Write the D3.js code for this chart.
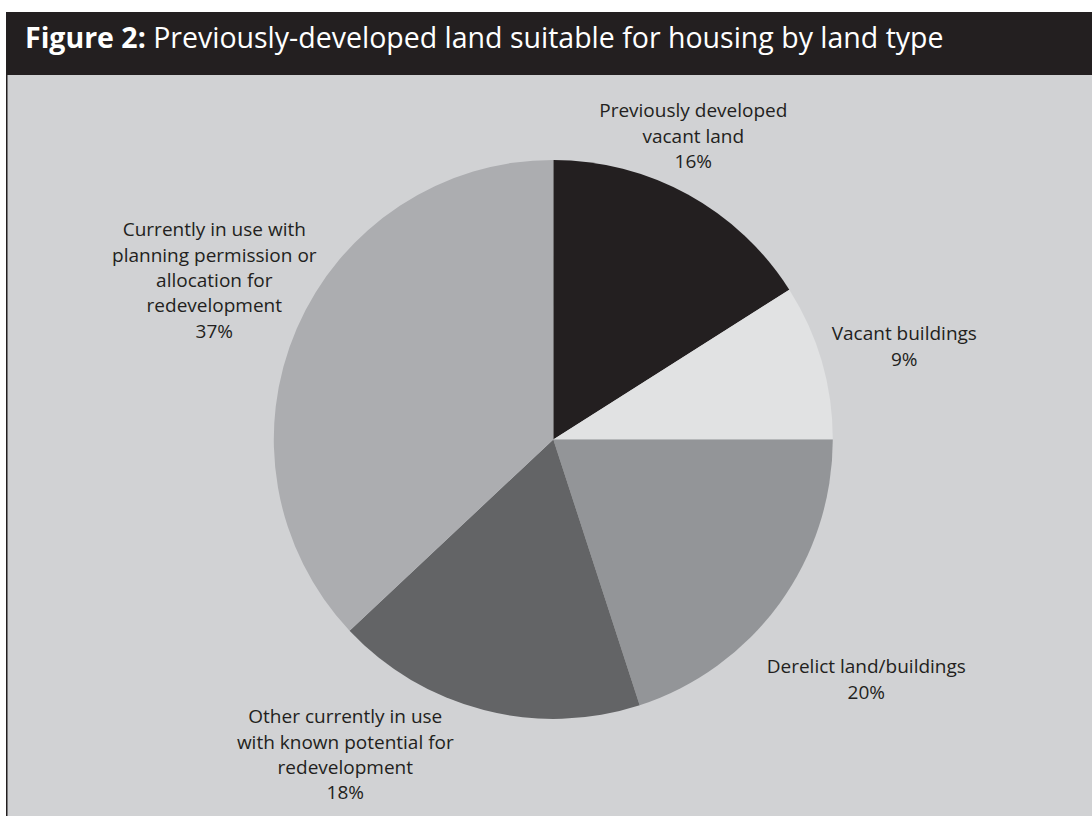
<!DOCTYPE html>
<html>
<head>
<meta charset="utf-8">
<script src="https://cdn.jsdelivr.net/npm/d3@7"></script>
<style>
  html, body { margin: 0; padding: 0; background: #ffffff; }
  svg { display: block; }
</style>
</head>
<body>
<script>
// Share of previously-developed land suitable for housing, by land type
const categories = [
  "Previously developed vacant land",
  "Vacant buildings",
  "Derelict land/buildings",
  "Other currently in use with known potential for redevelopment",
  "Currently in use with planning permission or allocation for redevelopment"
];
const shares = [16, 9, 20, 18, 37];

// Label text, broken into lines as printed
const labelLines = [
  ["Previously developed", "vacant land", "16%"],
  ["Vacant buildings", "9%"],
  ["Derelict land/buildings", "20%"],
  ["Other currently in use", "with known potential for", "redevelopment", "18%"],
  ["Currently in use with", "planning permission or", "allocation for", "redevelopment", "37%"]
];

const sliceColors = ["#231f20", "#e1e2e3", "#939598", "#636466", "#acadb0"];

// Label anchors: centre x and first baseline, relative to pie centre
const labelAnchor = [
  { dx: 140, dy: -322 },
  { dx: 351, dy: -99 },
  { dx: 313, dy: 234 },
  { dx: -208, dy: 284 },
  { dx: -339, dy: -203 }
];

const W = 1092, H = 816;
const svg = d3.select("body").append("svg")
  .attr("width", W).attr("height", H);

// Frame: white margin, grey panel, black title bar, left rule
const frameX = 6, barTop = 12, barBottom = 75;
svg.append("rect").attr("x", frameX).attr("y", barBottom)
  .attr("width", W - frameX).attr("height", H - barBottom)
  .attr("fill", "#d1d2d4");
svg.append("rect").attr("x", frameX).attr("y", barTop)
  .attr("width", W - frameX).attr("height", barBottom - barTop)
  .attr("fill", "#231f20");
svg.append("line")
  .attr("x1", frameX + 0.75).attr("x2", frameX + 0.75)
  .attr("y1", barBottom).attr("y2", H)
  .attr("stroke", "#231f20").attr("stroke-width", 1.5);

const title = svg.append("text")
  .attr("x", 25).attr("y", 48)
  .attr("fill", "#ffffff")
  .style("font-family", "'Open Sans', sans-serif")
  .style("font-size", "28.5px");
title.append("tspan").attr("font-weight", "bold").text("Figure 2:");
title.append("tspan").text(" Previously-developed land suitable for housing by land type");

// Pie
const cx = 553.3, cy = 439.4, radius = 279.5;
const pie = d3.pie().sort(null).value(d => d)
  .startAngle(0).endAngle(2 * Math.PI);
const arc = d3.arc().innerRadius(0).outerRadius(radius);
const arcs = pie(shares);

const g = svg.append("g").attr("transform", `translate(${cx},${cy})`);
g.selectAll("path.slice").data(arcs).join("path")
  .attr("class", "slice")
  .attr("d", arc)
  .attr("fill", (d, i) => sliceColors[i]);

// Labels
const lineH = 25.3;
const labels = g.selectAll("text.label").data(arcs).join("text")
  .attr("class", "label")
  .attr("text-anchor", "middle")
  .attr("fill", "#231f20")
  .style("font-family", "'Open Sans', sans-serif")
  .style("font-size", "19px");
labels.each(function(d, i) {
  const t = d3.select(this);
  labelLines[i].forEach((line, k) => {
    t.append("tspan")
      .attr("x", labelAnchor[i].dx)
      .attr("y", labelAnchor[i].dy + k * lineH)
      .text(line);
  });
});
</script>
</body>
</html>
